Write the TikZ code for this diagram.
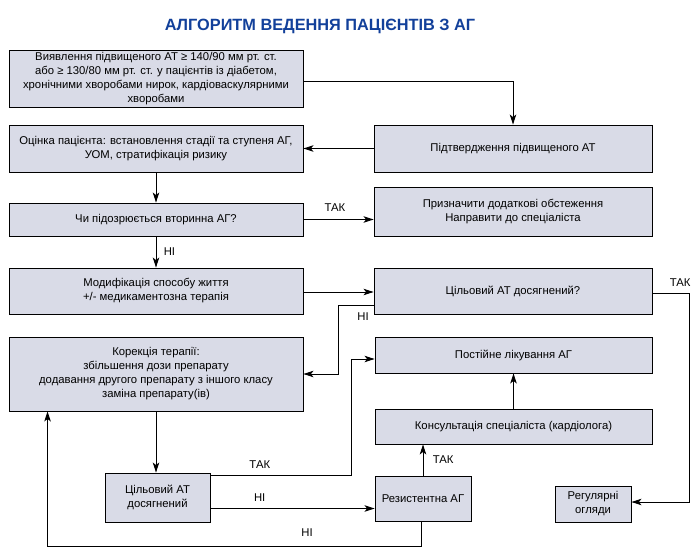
\documentclass[tikz,border=0pt]{standalone}
\usepackage{fontspec}
\setmainfont{Liberation Sans}
\usepackage{xcolor}
\usepackage{tikz}
\usetikzlibrary{arrows.meta}
\definecolor{AlgFill}{HTML}{D9DBE7}
\definecolor{AlgBlue}{HTML}{12409A}
\tikzset{
	AlgBox/.style={draw=black, line width=0.9pt, fill=AlgFill, align=center, inner sep=2pt,
		font=\fontsize{11.3}{14}\selectfont},
	AlgArrow/.style={line width=0.9pt, -{Stealth[length=10pt,width=6.5pt,inset=2.5pt]}},
	AlgLabel/.style={font=\fontsize{11.3}{13}\selectfont}
}
\begin{document}
\begin{tikzpicture}[x=1pt,y=-1pt]
		\useasboundingbox (0,0) rectangle (696,556);
		\node[font=\fontsize{16.3}{18}\selectfont\bfseries, text=AlgBlue] (title) at (320,26) {АЛГОРИТМ ВЕДЕННЯ ПАЦІЄНТІВ З АГ};
		% Блоки
		\node[AlgBox, minimum width=294pt, minimum height=57pt] (detect) at (156,78.5)
{Виявлення підвищеного АТ ≥ 140/90 мм рт. ст.\\ або ≥ 130/80 мм рт. ст. у пацієнтів із діабетом,\\ хронічними хворобами нирок, кардіоваскулярними\\ хворобами};
		\node[AlgBox, minimum width=294pt, minimum height=47pt] (assess) at (156,148.5)
{Оцінка пацієнта: встановлення стадії та ступеня АГ,\\ УОМ, стратифікація ризику};
		\node[AlgBox, minimum width=278pt, minimum height=47pt] (confirm) at (513,148.5)
{Підтвердження підвищеного АТ};
		\node[AlgBox, minimum width=294pt, minimum height=33pt] (suspect) at (156,219.5)
{Чи підозрюється вторинна АГ?};
		\node[AlgBox, minimum width=278pt, minimum height=49pt] (refer) at (513,211.5)
{Призначити додаткові обстеження\\ Направити до спеціаліста};
		\node[AlgBox, minimum width=294pt, minimum height=46pt] (lifestyle) at (156,291)
{Модифікація способу життя\\ +/- медикаментозна терапія};
		\node[AlgBox, minimum width=278pt, minimum height=46pt] (target) at (513,291)
{Цільовий АТ досягнений?};
		\node[AlgBox, minimum width=294pt, minimum height=74pt] (correct) at (156,374)
{Корекція терапії:\\ збільшення дози препарату\\ додавання другого препарату з іншого класу\\ заміна препарату(ів)};
		\node[AlgBox, minimum width=277pt, minimum height=36pt] (permanent) at (513.5,355)
{Постійне лікування АГ};
		\node[AlgBox, minimum width=277pt, minimum height=35pt] (consult) at (513.5,426.5)
{Консультація спеціаліста (кардіолога)};
		\node[AlgBox, minimum width=105pt, minimum height=49pt] (targetB) at (157.5,497.5)
{Цільовий АТ\\ досягнений};
		\node[AlgBox, minimum width=96pt, minimum height=45pt] (resist) at (423,498.5)
{Резистентна АГ};
		\node[AlgBox, minimum width=76pt, minimum height=36pt] (regular) at (593,504)
{Регулярні\\ огляди};
		% Стрілки
		\draw[AlgArrow] ([yshift=-2.5pt]detect.east) -| (confirm.north);
		\draw[AlgArrow] (confirm.west) -- (assess.east);
		\draw[AlgArrow] (assess.south) -- (suspect.north);
		\draw[AlgArrow] (suspect.east) -- (suspect.east -| refer.west)
			node[AlgLabel, pos=0.45, above=4pt] {ТАК};
		\draw[AlgArrow] (suspect.south) -- (lifestyle.north)
			node[AlgLabel, midway, right=4pt] {НІ};
		\draw[AlgArrow] ([yshift=-1pt]lifestyle.east) -- ([yshift=-1pt]target.west);
		\draw[AlgArrow] ([yshift=-14pt]target.west) -- ++(-35,0)
			node[AlgLabel, pos=0.3, below=4pt] {НІ} |- (correct.east);
		\draw[AlgArrow] ([yshift=-2pt]target.east) -- ++(37,0)
			node[AlgLabel, pos=0.75, above=3pt] {ТАК} |- ([yshift=2pt]regular.east);
		\draw[AlgArrow] (correct.south) -- (correct.south |- targetB.north);
		\draw[AlgArrow] ([yshift=-3pt]targetB.north east) -- ++(141,0)
			node[AlgLabel, pos=0.35, above=3pt] {ТАК} |- ([yshift=-4pt]permanent.west);
		\draw[AlgArrow] ([yshift=-11pt]targetB.east) -- ([yshift=-11pt]targetB.east -| resist.west)
			node[AlgLabel, pos=0.3, above=3pt] {НІ};
		\draw[AlgArrow] (resist.north) -- (resist.north |- consult.south)
			node[AlgLabel, midway, right=6pt] {ТАК};
		\draw[AlgArrow] (consult.north) -- (permanent.south);
		\draw[AlgArrow] ([xshift=-2pt]resist.south) -- ++(0,25)
			node[AlgLabel, pos=1, above=6pt, xshift=-114pt] {НІ}
			-| ([xshift=39pt]correct.south west);
\end{tikzpicture}
\end{document}
